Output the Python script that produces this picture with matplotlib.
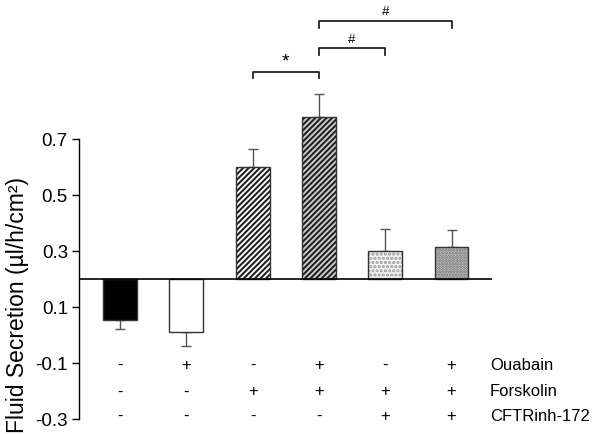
import matplotlib
matplotlib.use("Agg")
import matplotlib.pyplot as plt

plt.rcParams['font.family'] = ['Liberation Sans', 'DejaVu Sans']
plt.rcParams['hatch.linewidth'] = 1.5

values = [0.054, 0.012, 0.601, 0.777, 0.299, 0.313]
errors = [0.033, 0.052, 0.063, 0.083, 0.080, 0.063]
baseline = 0.2
ouabain = ['-', '+', '-', '+', '-', '+']
forskolin = ['-', '-', '+', '+', '+', '+']
cftr = ['-', '-', '-', '-', '+', '+']
row_names = ['Ouabain', 'Forskolin', 'CFTRinh-172']
yticks = [-0.3, -0.1, 0.1, 0.3, 0.5, 0.7]
ytick_labels = ['-0.3', '-0.1', '0.1', '0.3', '0.5', '0.7']
brackets = [(2, 3, 0.94, '*'), (3, 4, 1.024, '#'), (3, 5, 1.122, '#')]

colors = ['black', 'white', 'white', '#d0d0d0', '#f2f2f2', '#d6d6d6']
hatches = [None, None, '//////', '//////', '....', '......']
hatch_edge = ['#333333', '#333333', '#222222', '#222222', '#9a9a9a', '#6a6a6a']

fig = plt.figure(figsize=(6.02, 4.35), dpi=100)
ax = fig.add_axes([79/602, 0, (492-79)/602, 1])
ax.set_ylim(-0.354, 1.2)
ax.set_xlim(-0.62, 5.61)

for i, v in enumerate(values):
    ax.bar(i, v - baseline, bottom=baseline, width=0.51, color=colors[i],
           edgecolor=hatch_edge[i], linewidth=0, hatch=hatches[i], zorder=2)
    ax.bar(i, v - baseline, bottom=baseline, width=0.51, color='none',
           edgecolor='#333333', linewidth=1.0, zorder=2.5)
    if v >= baseline:
        ax.errorbar(i, v, yerr=[[0], [errors[i]]], fmt='none', ecolor='#555555',
                    elinewidth=1.0, capsize=3.5, capthick=1.0, zorder=1)
    else:
        ax.errorbar(i, v, yerr=[[errors[i]], [0]], fmt='none', ecolor='#555555',
                    elinewidth=1.0, capsize=3.5, capthick=1.0, zorder=1)

ax.axhline(baseline, color='black', linewidth=1.2, zorder=3)

for spine in ['top', 'right', 'bottom']:
    ax.spines[spine].set_visible(False)
ax.spines['left'].set_bounds(-0.3, 0.7)
ax.spines['left'].set_linewidth(1.0)
ax.set_yticks(yticks)
ax.set_yticklabels(ytick_labels, fontsize=13.5)
ax.tick_params(axis='y', length=5, width=1.0, pad=3)
ax.set_xticks([])
ax.set_ylabel('Fluid Secretion (µl/h/cm²)', fontsize=16.5)
ax.yaxis.set_label_coords(-0.12, (435 - 305) / 435)

rows = [ouabain, forskolin, cftr]
row_y = [-0.107, -0.2, -0.289]
for r, ry, name in zip(rows, row_y, row_names):
    for i, s in enumerate(r):
        ax.text(i, ry, s, ha='center', va='center', fontsize=12, clip_on=False)
    ax.text(5.58, ry, name, ha='left', va='center', fontsize=12, clip_on=False)

tick = 0.024
for a, b, y, lab in brackets:
    ax.plot([a, a, b, b], [y - tick, y, y, y - tick], color='#222222',
            linewidth=1.3, clip_on=False)
    if lab == '*':
        ax.text((a + b) / 2, y + 0.01, lab, ha='center', va='bottom', fontsize=14)
    else:
        ax.text((a + b) / 2, y + 0.012, lab, ha='center', va='bottom', fontsize=9.5)

fig.savefig('out.png', dpi=100)
